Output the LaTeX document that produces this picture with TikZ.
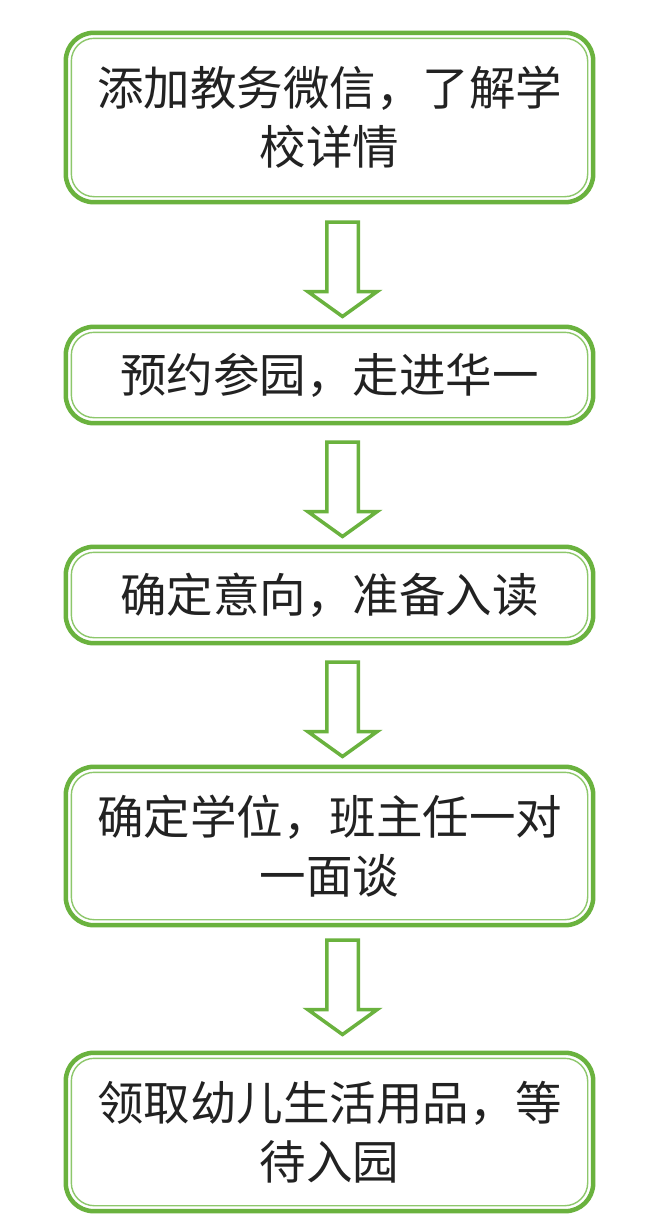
\documentclass[tikz,border=0pt]{standalone}
\usepackage{fontspec}
\newfontfamily\cjk{Noto Sans CJK SC}
\definecolor{gout}{HTML}{6AB23E}
\definecolor{gin}{HTML}{8DC76B}
\definecolor{txt}{HTML}{222222}
\tikzset{
  stepbox/.style={minimum width=527pt, inner sep=0pt, align=center,
    font=\cjk\fontsize{46.5}{59}\selectfont, text=txt},
  outerframe/.style={draw=gout, line width=4.5pt, rounded corners=28pt},
  innerframe/.style={draw=gin, line width=1.4pt, rounded corners=23pt},
  blkarrow/.style={draw=gout, fill=white, line width=3.5pt, line join=miter}
}
\newcommand{\blockarrow}[1]{%
  \draw[blkarrow] (#1) ++(-15.75,0) -- ++(0,69.5) -- ++(-19,0) -- ++(34.75,25)
    -- ++(34.75,-25) -- ++(-19,0) -- ++(0,-69.5) -- cycle;}
\begin{document}
\begin{tikzpicture}[x=1pt,y=-1pt]
\useasboundingbox[fill=white] (0,0) rectangle (655,1221);
\node[stepbox, minimum height=169pt] (b1) at (329.5,117.5) {添加教务微信，了解学\\校详情};
\node[stepbox, minimum height=96pt] (b2) at (329.5,375) {预约参园，走进华一};
\node[stepbox, minimum height=96pt] (b3) at (329.5,595) {确定意向，准备入读};
\node[stepbox, minimum height=158pt] (b4) at (329.5,846) {确定学位，班主任一对\\一面谈};
\node[stepbox, minimum height=158pt] (b5) at (329.5,1132) {领取幼儿生活用品，等\\待入园};
\foreach \b in {b1,b2,b3,b4,b5}{
  \draw[outerframe] (\b.north west) rectangle (\b.south east);
  \draw[innerframe] ([shift={(5.5,5.5)}]\b.north west) rectangle ([shift={(-5.5,-5.5)}]\b.south east);
}
\coordinate (a1) at (342.5,222);
\coordinate (a2) at (342.5,442);
\coordinate (a3) at (342.5,662);
\coordinate (a4) at (342.5,940);
\blockarrow{a1}
\blockarrow{a2}
\blockarrow{a3}
\blockarrow{a4}
\end{tikzpicture}
\end{document}
